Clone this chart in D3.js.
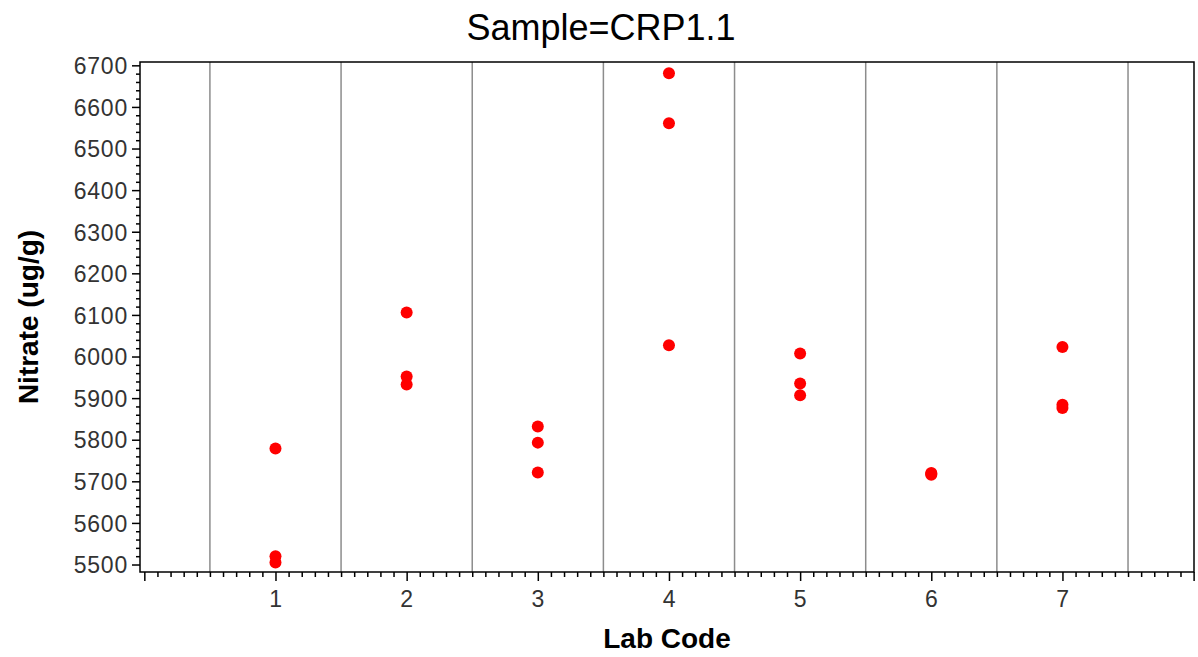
<!DOCTYPE html>
<html>
<head>
<meta charset="utf-8">
<script src="https://cdn.jsdelivr.net/npm/d3@7"></script>
<style>
  html, body { margin: 0; padding: 0; background: #fff; }
  svg { display: block; font-family: "Liberation Sans", Arial, sans-serif; }
  .tick-label { font-size: 23px; fill: #333; letter-spacing: 0.8px; }
</style>
</head>
<body>
<svg id="chart"></svg>
<script>
// lab codes and replicate nitrate results (ug/g)
const LABS = [1, 1, 1, 2, 2, 2, 3, 3, 3, 4, 4, 4, 5, 5, 5, 6, 6, 6, 7, 7, 7];
const NITRATE = [
  5779, 5520, 5505,
  6106, 5952, 5933,
  5832, 5793, 5721,
  6681, 6561, 6027,
  6007, 5935, 5907,
  5720, 5718, 5716,
  6023, 5884, 5876
];
const X_TICKS = [1, 2, 3, 4, 5, 6, 7];
const Y_TICKS = [5500, 5600, 5700, 5800, 5900, 6000, 6100, 6200, 6300, 6400, 6500, 6600, 6700];
const GRID_X = [0.5, 1.5, 2.5, 3.5, 4.5, 5.5, 6.5, 7.5];

const W = 1198, H = 657;
const plot = { left: 140, right: 1194, top: 62, bottom: 572 };

const svg = d3.select("#chart").attr("width", W).attr("height", H);

const x = d3.scaleLinear().domain([-0.033, 8.003]).range([plot.left, plot.right]);
const y = d3.scaleLinear().domain([5482, 6708]).range([plot.bottom, plot.top]);

// vertical reference lines between labs
svg.append("g")
  .selectAll("line")
  .data(GRID_X)
  .join("line")
  .attr("x1", d => x(d)).attr("x2", d => x(d))
  .attr("y1", plot.top).attr("y2", plot.bottom)
  .attr("stroke", "#8c8c8c")
  .attr("stroke-width", 1.5);

// frame
svg.append("rect")
  .attr("x", plot.left).attr("y", plot.top)
  .attr("width", plot.right - plot.left)
  .attr("height", plot.bottom - plot.top)
  .attr("fill", "none")
  .attr("stroke", "#000")
  .attr("stroke-width", 1.5);

// y axis: major ticks every 100, minor every 20
const yMinor = d3.range(5500, 6701, 20).filter(v => v % 100 !== 0);
svg.append("g")
  .attr("transform", `translate(${plot.left},0)`)
  .call(d3.axisLeft(y).tickValues(yMinor).tickSize(4).tickFormat(""))
  .call(g => g.select(".domain").remove())
  .call(g => g.selectAll(".tick line").attr("stroke", "#000").attr("stroke-width", 1.5));

svg.append("g")
  .attr("transform", `translate(${plot.left},0)`)
  .call(d3.axisLeft(y).tickValues(Y_TICKS).tickSize(8).tickPadding(4).tickFormat(d3.format("d")))
  .call(g => g.select(".domain").remove())
  .call(g => g.selectAll(".tick line").attr("stroke", "#000").attr("stroke-width", 1.5))
  .call(g => g.selectAll(".tick text").attr("class", "tick-label").attr("font-size", null).attr("font-family", null).attr("dy", "0.36em"));

// x axis: major at integers 0..8 (labels 1..7), minor every 0.1
const xMinor = d3.range(0, 81).map(i => i / 10).filter((v, i) => i % 10 !== 0);
svg.append("g")
  .attr("transform", `translate(0,${plot.bottom})`)
  .call(d3.axisBottom(x).tickValues(xMinor).tickSize(5).tickFormat(""))
  .call(g => g.select(".domain").remove())
  .call(g => g.selectAll(".tick line").attr("stroke", "#000").attr("stroke-width", 1.5));

svg.append("g")
  .attr("transform", `translate(0,${plot.bottom})`)
  .call(d3.axisBottom(x).tickValues(d3.range(0, 9)).tickSize(9).tickPadding(10)
    .tickFormat(d => X_TICKS.includes(d) ? d : ""))
  .call(g => g.select(".domain").remove())
  .call(g => g.selectAll(".tick line").attr("stroke", "#000").attr("stroke-width", 1.5))
  .call(g => g.selectAll(".tick text").attr("class", "tick-label").attr("font-size", null).attr("font-family", null));

// points
svg.append("g")
  .selectAll("circle")
  .data(NITRATE.map((v, i) => ({ lab: LABS[i], value: v })))
  .join("circle")
  .attr("cx", d => x(d.lab))
  .attr("cy", d => y(d.value))
  .attr("r", 6)
  .attr("fill", "#ff0000");

// titles
svg.append("text")
  .attr("x", 601).attr("y", 40)
  .attr("text-anchor", "middle")
  .attr("font-size", 36)
  .attr("fill", "#000")
  .text("Sample=CRP1.1");

svg.append("text")
  .attr("x", (plot.left + plot.right) / 2).attr("y", 648)
  .attr("text-anchor", "middle")
  .attr("font-size", 28)
  .attr("font-weight", "bold")
  .text("Lab Code");

svg.append("text")
  .attr("transform", `translate(38,${(plot.top + plot.bottom) / 2}) rotate(-90)`)
  .attr("text-anchor", "middle")
  .attr("font-size", 28)
  .attr("font-weight", "bold")
  .text("Nitrate (ug/g)");
</script>
</body>
</html>
